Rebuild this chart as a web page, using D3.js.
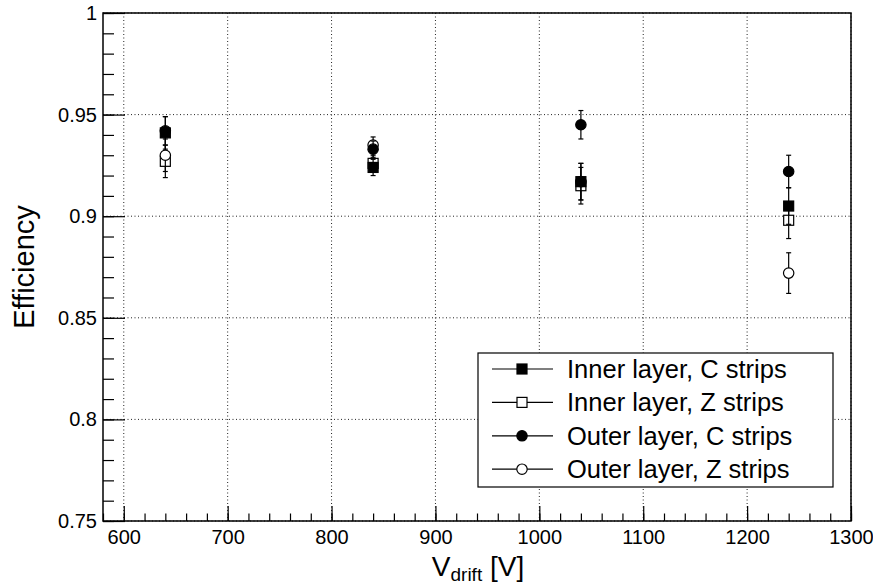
<!DOCTYPE html>
<html>
<head>
<meta charset="utf-8">
<script src="https://d3js.org/d3.v7.min.js"></script>
<style>
  body { margin: 0; background: #fff; }
  text { font-family: "Liberation Sans", Arial, sans-serif; }
</style>
</head>
<body>
<div id="chart"></div>
<script>
// drift voltages (x) for each measurement column
const voltages = [640, 840, 1040, 1240];

// efficiencies and their errors, one array per series
const innerC = [0.941, 0.924, 0.917, 0.905];
const innerCErr = [0.008, 0.004, 0.009, 0.009];
const innerZ = [0.927, 0.926, 0.915, 0.898];
const innerZErr = [0.008, 0.004, 0.009, 0.009];
const outerC = [0.942, 0.933, 0.945, 0.922];
const outerCErr = [0.007, 0.004, 0.007, 0.008];
const outerZ = [0.930, 0.935, 0.917, 0.872];
const outerZErr = [0.008, 0.004, 0.009, 0.010];

const seriesNames = ["Inner layer, C strips", "Inner layer, Z strips", "Outer layer, C strips", "Outer layer, Z strips"];

const xTicks = [600, 700, 800, 900, 1000, 1100, 1200, 1300];
const yTicks = [0.75, 0.8, 0.85, 0.9, 0.95, 1];

const series = [
  { name: seriesNames[0], vals: innerC, errs: innerCErr, shape: "square", filled: true },
  { name: seriesNames[1], vals: innerZ, errs: innerZErr, shape: "square", filled: false },
  { name: seriesNames[2], vals: outerC, errs: outerCErr, shape: "circle", filled: true },
  { name: seriesNames[3], vals: outerZ, errs: outerZErr, shape: "circle", filled: false }
];

const width = 873, height = 586;
const padL = 103, padR = 851, padT = 13, padB = 521;

const svg = d3.select("#chart")
  .append("svg")
  .attr("width", width)
  .attr("height", height);

const x = d3.scaleLinear().domain([580, 1300]).range([padL, padR]);
const y = d3.scaleLinear().domain([0.75, 1]).range([padB, padT]);

// grid (dotted)
const grid = svg.append("g").attr("stroke", "#222").attr("stroke-dasharray", "1,2.5").attr("stroke-width", 1);
xTicks.forEach(t => {
  grid.append("line").attr("x1", x(t)).attr("x2", x(t)).attr("y1", padT).attr("y2", padB);
});
yTicks.forEach(t => {
  grid.append("line").attr("x1", padL).attr("x2", padR).attr("y1", y(t)).attr("y2", y(t));
});

// x axis
const xMinor = d3.range(580, 1301, 20);
svg.append("g")
  .attr("transform", `translate(0,${padB})`)
  .call(d3.axisBottom(x).tickValues(xMinor).tickSizeInner(-7.5).tickSizeOuter(0).tickFormat(""))
  .call(g => g.select(".domain").remove());
svg.append("g")
  .attr("transform", `translate(0,${padB})`)
  .call(d3.axisBottom(x).tickValues(xTicks).tickSizeInner(-15).tickSizeOuter(0).tickPadding(9).tickFormat(d3.format("d")))
  .call(g => g.select(".domain").remove())
  .call(g => g.selectAll("text").attr("font-size", 20).attr("fill", "#000"));

// y axis
const yMinor = d3.range(75, 101, 1).map(v => v / 100);
svg.append("g")
  .attr("transform", `translate(${padL},0)`)
  .call(d3.axisLeft(y).tickValues(yMinor).tickSizeInner(-11).tickSizeOuter(0).tickFormat(""))
  .call(g => g.select(".domain").remove());
svg.append("g")
  .attr("transform", `translate(${padL},0)`)
  .call(d3.axisLeft(y).tickValues(yTicks).tickSizeInner(-22).tickSizeOuter(0).tickPadding(6).tickFormat(d => String(+d.toFixed(2))))
  .call(g => g.select(".domain").remove())
  .call(g => g.selectAll("text").attr("font-size", 20).attr("fill", "#000"));
svg.selectAll(".tick line").attr("stroke", "#000").attr("stroke-width", 1.2);

// frame
svg.append("rect")
  .attr("x", padL).attr("y", padT)
  .attr("width", padR - padL).attr("height", padB - padT)
  .attr("fill", "none").attr("stroke", "#000").attr("stroke-width", 1.5);

// axis titles
svg.append("text")
  .attr("transform", `translate(34,${(padT + padB) / 2}) rotate(-90)`)
  .attr("text-anchor", "middle")
  .attr("font-size", 29)
  .text("Efficiency");

const xt = svg.append("text")
  .attr("x", 478).attr("y", 576)
  .attr("text-anchor", "middle")
  .attr("font-size", 28);
xt.append("tspan").text("V");
xt.append("tspan").attr("font-size", 19).attr("dy", 5).text("drift");
xt.append("tspan").attr("dy", -5).text(" [V]");

// marker drawing helper
function marker(g, s, cx, cy) {
  const fill = s.filled ? "#000" : "#fff";
  if (s.shape === "square") {
    g.append("rect").attr("x", cx - 5).attr("y", cy - 5).attr("width", 10).attr("height", 10)
      .attr("fill", fill).attr("stroke", "#000").attr("stroke-width", 1.2);
  } else {
    g.append("circle").attr("cx", cx).attr("cy", cy).attr("r", 5.2)
      .attr("fill", fill).attr("stroke", "#000").attr("stroke-width", 1.2);
  }
}

// data points with error bars (draw open markers first)
const order = [1, 3, 0, 2];
order.forEach(si => {
  const s = series[si];
  const g = svg.append("g");
  voltages.forEach((v, i) => {
    const cx = x(v), cy = y(s.vals[i]);
    const y1 = y(s.vals[i] + s.errs[i]), y2 = y(s.vals[i] - s.errs[i]);
    g.append("line").attr("x1", cx).attr("x2", cx).attr("y1", y1).attr("y2", y2)
      .attr("stroke", "#000").attr("stroke-width", 1.2);
    [y1, y2].forEach(yy => {
      g.append("line").attr("x1", cx - 2.5).attr("x2", cx + 2.5).attr("y1", yy).attr("y2", yy)
        .attr("stroke", "#000").attr("stroke-width", 1.2);
    });
    marker(g, s, cx, cy);
  });
});

// legend
const lg = svg.append("g");
lg.append("rect").attr("x", 478).attr("y", 353).attr("width", 355).attr("height", 134)
  .attr("fill", "#fff").attr("stroke", "#000").attr("stroke-width", 1.2);
series.forEach((s, i) => {
  const ly = 369 + i * 33.4;
  lg.append("line").attr("x1", 492).attr("x2", 553).attr("y1", ly).attr("y2", ly)
    .attr("stroke", "#000").attr("stroke-width", 1.2);
  marker(lg, s, 522, ly);
  lg.append("text").attr("x", 567).attr("y", ly + 9).attr("font-size", 25.5).text(s.name);
});
</script>
</body>
</html>
